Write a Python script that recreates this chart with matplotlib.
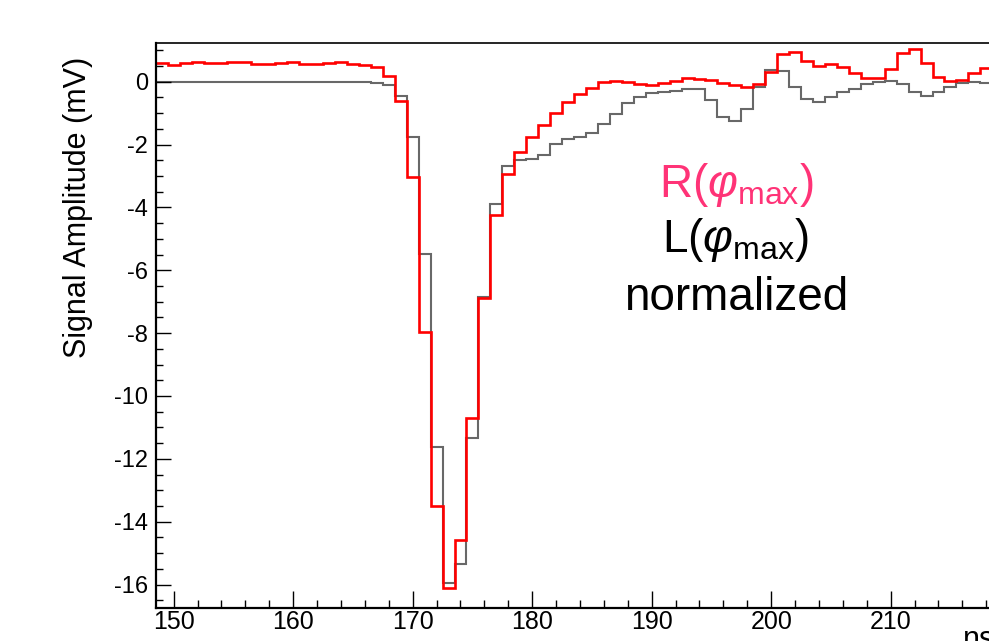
import numpy as np
import matplotlib
matplotlib.use('Agg')
import matplotlib.pyplot as plt
from matplotlib.ticker import MultipleLocator

plt.rcParams['font.family'] = ['Liberation Sans', 'DejaVu Sans']
plt.rcParams['mathtext.fontset'] = 'custom'
plt.rcParams['mathtext.rm'] = 'Liberation Sans'
plt.rcParams['mathtext.it'] = 'Liberation Sans:italic'
plt.rcParams['axes.unicode_minus'] = False

# bin centres (ns), 1 ns bins
t_ns = np.arange(149, 219)

# R(phi_max) waveform, mV
right_amp = [0.585, 0.53, 0.585, 0.62, 0.585, 0.585, 0.62, 0.63, 0.57, 0.55,
             0.59, 0.62, 0.55, 0.55, 0.585, 0.62, 0.56, 0.53, 0.47, 0.19,
             -0.62, -3.03, -7.95, -13.50, -16.12, -14.58, -10.71, -6.88, -4.23, -2.94,
             -2.23, -1.77, -1.38, -0.99, -0.64, -0.39, -0.19, -0.01, 0.01, -0.02,
             -0.08, -0.10, -0.03, 0.03, 0.12, 0.10, 0.04, -0.03, -0.12, -0.18,
             -0.08, 0.30, 0.88, 0.94, 0.67, 0.50, 0.55, 0.46, 0.27, 0.11,
             0.12, 0.40, 0.90, 1.05, 0.60, 0.16, 0.02, 0.05, 0.27, 0.45]

# L(phi_max) waveform, normalized, mV
left_amp = [-0.02, -0.02, -0.02, -0.02, -0.02, -0.02, -0.02, -0.02, -0.02, -0.02,
            -0.02, -0.02, -0.02, -0.02, -0.02, -0.02, -0.02, -0.02, -0.05, -0.09,
            -0.45, -1.75, -5.49, -11.61, -15.94, -15.35, -11.35, -6.84, -3.90, -2.68,
            -2.49, -2.47, -2.33, -1.99, -1.82, -1.77, -1.63, -1.36, -1.02, -0.69,
            -0.48, -0.37, -0.34, -0.30, -0.24, -0.24, -0.59, -1.13, -1.25, -0.87,
            -0.17, 0.37, 0.34, -0.18, -0.55, -0.64, -0.48, -0.32, -0.23, -0.07,
            0.00, 0.03, -0.08, -0.34, -0.45, -0.34, -0.16, -0.05, -0.02, -0.04]

edges = np.append(t_ns - 0.5, t_ns[-1] + 0.5)

fig = plt.figure(figsize=(9.89, 6.41), dpi=100)
# axes runs a little past the right edge of the picture (cropped like the original)
ax = fig.add_axes([0.1575, 0.051, 0.8458, 0.8824])

ax.stairs(left_amp, edges, baseline=None, color='#686868', lw=1.5)
ax.stairs(right_amp, edges, baseline=None, color='#ff0000', lw=1.9)

ax.set_xlim(148.5, 218.5)
ax.set_ylim(-16.755, 1.241)

ax.xaxis.set_major_locator(MultipleLocator(10))
ax.xaxis.set_minor_locator(MultipleLocator(2))
ax.yaxis.set_major_locator(MultipleLocator(2))
ax.yaxis.set_minor_locator(MultipleLocator(0.5))

ax.tick_params(axis='both', which='both', direction='in', top=False, right=False, width=1.0, color='black')
ax.tick_params(axis='x', which='major', length=12.5, labelsize=18, pad=1.5)
ax.tick_params(axis='x', which='minor', length=6)
ax.tick_params(axis='y', which='major', length=10.8, labelsize=17, pad=5.5)
ax.tick_params(axis='y', which='minor', length=5.3)

for side in ['left', 'bottom']:
    ax.spines[side].set_linewidth(1.6)
ax.spines['top'].set_linewidth(1.2)

fig.text(86 / 989, (641 - 57) / 641, 'Signal Amplitude (mV)', rotation=90,
         rotation_mode='anchor', ha='right', va='baseline', fontsize=22)
fig.text(995 / 989, (641 - 648) / 641, 'ns', ha='right', va='baseline', fontsize=22)

ax.text(197.05, -3.66, r'R($\varphi_{\mathrm{max}}$)', color='#ff3377',
        ha='center', va='baseline', fontsize=33)
ax.text(197.05, -5.41, r'L($\varphi_{\mathrm{max}}$)', color='black',
        ha='center', va='baseline', fontsize=33)
ax.text(197.05, -7.26, 'normalized', color='black',
        ha='center', va='baseline', fontsize=33)

fig.savefig('out.png', dpi=100)
